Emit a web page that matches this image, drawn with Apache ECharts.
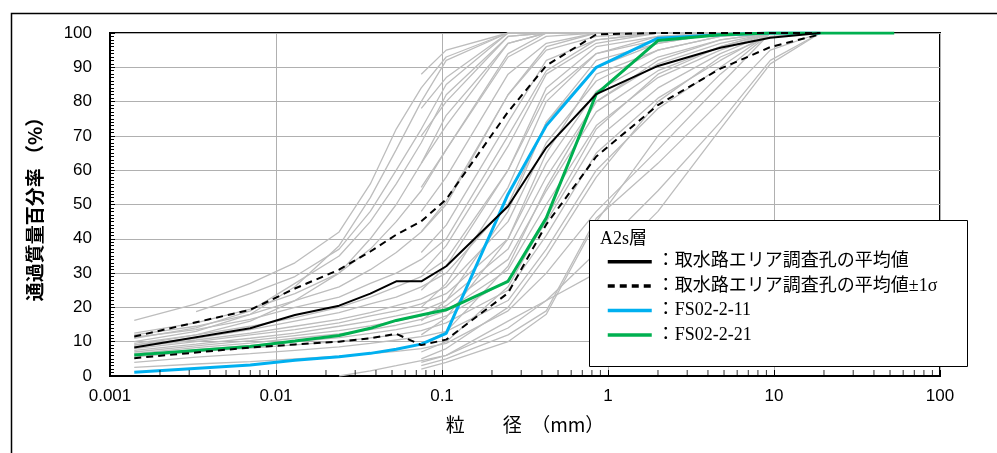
<!DOCTYPE html>
<html><head><meta charset="utf-8">
<script src="https://cdn.jsdelivr.net/npm/echarts@6/dist/echarts.min.js"></script>
<style>html,body{margin:0;padding:0;background:#fff}#c{width:997px;height:453px}</style>
</head><body><div id="c"></div>
<script>
// Particle diameters (mm) used as x positions
const SIEVE = [0.0014, 0.0033, 0.007, 0.013, 0.024, 0.037, 0.053, 0.075, 0.106, 0.25, 0.425, 0.85, 2, 4.75, 9.5, 19, 26.5, 37.5, 53];
const X_TICK_LABELS = ['0.001', '0.01', '0.1', '1', '10', '100'];
const Y_TICK_LABELS = ['0','10','20','30','40','50','60','70','80','90','100'];

// Highlighted series (% passing at each SIEVE diameter)
const MEAN  = [8.3, null, 13.9, 17.8, 20.5, 24, 27.6, 27.6, 32, 49.5, 66.6, 82.2, 90.4, 95.7, 98.6, 100];
const UPPER = [11.5, null, 19.3, 25.5, 31, 36.3, 41.2, 45.1, 51.5, 77, 90.5, 99.6, 100, 100, 100, 100];
const LOWER = [5.2, null, 8.3, 9.2, 10, 11, 12.3, 9, 10.6, 24.2, 44.2, 64, 79, 89.6, 95.9, 99.6];
const FS11  = [1.1, null, 3.2, 4.6, 5.6, 6.6, 7.8, 9.3, 12.4, 53, 73, 90, 98.5, 99.5, 100, 100];
const FS21  = [6.1, null, 8.6, 10.2, 11.8, 13.9, 16.2, 17.8, 19.3, 27.6, 46.1, 82.2, 97.8, 99.5, 100, 100, 100, 100, 100];

// Individual borehole samples (gray)
const N = null;
const GRAY_SAMPLES = [
  [16.2, 21, 27, 33, 42, 56, 72, 84, 93, 100, 100, 100, 100, 100, 100, 100],
  [N, 18.8, 24, 29, 37, 48, 60, 72, 85, 100, 100, 100, 100, 100, 100, 100],
  [10, 13, 18, 26, 38, 52, 66, 80, 92, 100, 100, 100, 100, 100, 100, 100],
  [11, 14, 19, 27, 35, 45, 56, 68, 82, 99, 100, 100, 100, 100, 100, 100],
  [9, 12, 16, 22, 30, 40, 50, 62, 76, 97, 100, 100, 100, 100, 100, 100],
  [12.5, 15.5, 19.5, 24, 30, 37, 45, 54, 66, 94, 100, 100, 100, 100, 100, 100],
  [12, 14.5, 18, 22, 26, 31, 36, 42, 50, 82, 96, 100, 100, 100, 100, 100],
  [11.3, 13.5, 16.5, 20, 23, 27, 30, 34, 40, 70, 89, 98, 100, 100, 100, 100],
  [9.5, 12, 14.5, 17, 20, 23, 26, 29, 34, 60, 82, 94, 99, 100, 100, 100],
  [9, 11, 13.5, 16, 18.5, 21, 23, 26, 30, 50, 74, 90, 97, 100, 100, 100],
  [8.5, 10.5, 12.5, 14.5, 16.5, 18.5, 20.5, 22.5, 26, 45, 68, 86, 95, 99, 100, 100],
  [8, 10, 12, 13.5, 15.5, 17.5, 19, 21, 24, 40, 62, 83, 93, 98, 100, 100],
  [7.5, 9.3, 11, 12.5, 14.5, 16, 17.5, 19, 22, 37, 58, 80, 91, 97, 100, 100],
  [7, 8.8, 10.3, 11.8, 13.2, 14.6, 16, 17.5, 20.5, 34, 54, 77, 89, 96, 100, 100],
  [6.5, 8.3, 9.6, 11, 12.3, 13.5, 14.8, 16.5, 19, 31, 50, 73, 87, 95, 100, 100],
  [6, 7.7, 8.9, 10, 11.2, 12.4, 13.5, 15, 17.5, 28, 45, 69, 84, 94, 100, 100],
  [5.6, 7.1, 8.1, 9.1, 10.1, 11.1, 12, 13.2, 15.5, 25, 41, 65, 81, 92, 100, 100],
  [4, 5.5, 6.5, 7.5, 8.5, 9.5, 10.5, 11.5, 13, 22, 37, 60, 78, 90, 100, 100],
  [2.5, 3.5, 4.2, 5, 5.8, 6.5, 7.2, 8, 9.5, 19, 30, 48, 66, 85, 100, 100],
  [N, N, N, N, 0, 1.5, 3, 4.5, 6, 14, 22, 36, 54, 74, 92, 100],
  [N, N, N, N, N, N, N, 88, 95, 100, 100, 100, 100, 100, 100, 100],
  [N, N, N, N, N, N, N, 78, 87, 100, 100, 100, 100, 100, 100, 100],
  [N, N, N, N, N, N, N, 70, 80, 99, 100, 100, 100, 100, 100, 100],
  [N, N, N, N, N, N, N, 62, 73, 97, 100, 100, 100, 100, 100, 100],
  [N, N, N, N, N, N, N, 55, 66, 93, 99, 100, 100, 100, 100, 100],
  [N, N, N, N, N, N, N, 48, 58, 88, 97, 100, 100, 100, 100, 100],
  [N, N, N, N, N, N, N, 42, 51, 82, 95, 99, 100, 100, 100, 100],
  [N, N, N, N, N, N, N, 36, 44, 74, 92, 98, 100, 100, 100, 100],
  [N, N, N, N, N, N, N, 30, 38, 67, 88, 97, 100, 100, 100, 100],
  [N, N, N, N, N, N, N, 25, 32, 60, 84, 96, 99, 100, 100, 100],
  [N, N, N, N, N, N, N, 20, 27, 55, 80, 94, 98, 100, 100, 100],
  [N, N, N, N, N, N, N, 16, 22, 48, 74, 92, 97, 100, 100, 100],
  [N, N, N, N, N, N, N, 12, 17, 40, 65, 88, 95, 99, 100, 100],
  [N, N, N, N, N, N, N, 9, 13, 32, 55, 80, 92, 98, 100, 100],
  [N, N, N, N, N, N, N, 7, 10, 26, 46, 72, 88, 96, 100, 100],
  [N, N, N, N, N, N, N, 5, 8, 20, 35, 58, 80, 93, 99, 100],
  [N, N, N, N, N, N, N, 4, 6, 16, 22, 30, 48, 72, 91, 100],
  [N, N, N, N, N, N, N, 3, 5, 12, 19, 46, 62, 80, 95, 100],
  [N, N, N, N, N, N, N, 2, 4, 10, 18, 45, 70, 88, 100, 100]
];

const NAME_MEAN = '：取水路エリア調査孔の平均値';
const NAME_SIG  = '：取水路エリア調査孔の平均値±1σ';
const NAME_11   = '：FS02-2-11';
const NAME_21   = '：FS02-2-21';

function pairs(vals) {
  const out = [];
  vals.forEach((v, i) => { if (v != null && i < SIEVE.length) out.push([SIEVE[i], v]); });
  return out;
}

// log minor tick positions (2..9 per decade)
const MINOR_TICKS = [];
for (let k = -3; k <= 1; k++) for (let m = 2; m <= 9; m++) MINOR_TICKS.push([m * Math.pow(10, k), 0]);

const serifFont = "'Liberation Serif', 'Noto Sans CJK JP', serif";
const sansFont = "'Liberation Sans', Arial, sans-serif";
const hidden = { opacity: 0 };

const series = [];
GRAY_SAMPLES.forEach((s, i) => series.push({
  name: 'sample' + (i + 1), type: 'line', symbol: 'none', data: pairs(s), z: 2,
  lineStyle: { color: '#bdbdbd', width: 1.3 }, silent: true
}));
series.push({ name: NAME_11, type: 'line', symbol: 'none', data: pairs(FS11), z: 3,
  lineStyle: { color: '#00b0f0', width: 3 }, itemStyle: { color: '#00b0f0', opacity: 0 } });
series.push({ name: NAME_21, type: 'line', symbol: 'none', data: pairs(FS21), z: 3,
  lineStyle: { color: '#00b050', width: 3 }, itemStyle: { color: '#00b050', opacity: 0 } });
series.push({ name: NAME_SIG, type: 'line', symbol: 'none', data: pairs(UPPER), z: 3,
  lineStyle: { color: '#000', width: 2, type: [7, 5] }, itemStyle: { color: '#000', opacity: 0 } });
series.push({ name: NAME_SIG, type: 'line', symbol: 'none', data: pairs(LOWER), z: 3,
  lineStyle: { color: '#000', width: 2, type: [7, 5] }, itemStyle: { color: '#000', opacity: 0 } });
series.push({ name: NAME_MEAN, type: 'line', symbol: 'none', data: pairs(MEAN), z: 3,
  lineStyle: { color: '#000', width: 2 }, itemStyle: { color: '#000', opacity: 0 } });
series.push({ name: 'minorTicks', type: 'scatter', data: MINOR_TICKS, symbol: 'rect',
  symbolSize: [1, 6], symbolOffset: [0, -3], itemStyle: { color: '#000' }, silent: true, clip: false, z: 5 });

const chart = echarts.init(document.getElementById('c'), null, { renderer: 'canvas' });
chart.setOption({
  animation: false,
  backgroundColor: '#fff',
  grid: { left: 110, right: 57, top: 33, bottom: 77, show: true, borderColor: '#000', borderWidth: 2, backgroundColor: 'transparent' },
  xAxis: {
    type: 'log', logBase: 10, min: 0.001, max: 100,
    axisLine: { show: true, lineStyle: { color: '#000', width: 2 } },
    axisTick: { show: true, inside: true, length: 6, lineStyle: { color: '#000' } },
    splitLine: { show: true, lineStyle: { color: '#b0b0b0', width: 1 } },
    axisLabel: { color: '#000', fontSize: 17, fontFamily: sansFont, margin: 12,
      formatter: v => X_TICK_LABELS[Math.round(Math.log10(v)) + 3] },
    name: '粒　　径　（mm）', nameLocation: 'middle', nameGap: 39,
    nameTextStyle: { color: '#000', fontSize: 19, fontFamily: "'Noto Sans CJK JP', sans-serif" }
  },
  yAxis: {
    type: 'value', min: 0, max: 100, interval: 10,
    axisLine: { show: true, lineStyle: { color: '#000', width: 2 } },
    axisTick: { show: true, inside: true, length: 5, lineStyle: { color: '#000' } },
    minorTick: { show: true, splitNumber: 10, length: 4, lineStyle: { color: '#000' } },
    splitLine: { show: true, lineStyle: { color: '#b0b0b0', width: 1 } },
    axisLabel: { color: '#000', fontSize: 17, fontFamily: sansFont, margin: 18,
      formatter: v => Y_TICK_LABELS[Math.round(v / 10)] },
    name: '通過質量百分率 （%）', nameLocation: 'middle', nameGap: 66, nameRotate: 90,
    nameTextStyle: { color: '#000', fontSize: 19, fontWeight: 'bold', fontFamily: "'Noto Sans CJK JP', sans-serif" }
  },
  legend: {
    data: [NAME_MEAN, NAME_SIG, NAME_11, NAME_21],
    orient: 'vertical', left: 606, top: 252.7, padding: 0,
    itemWidth: 44, itemHeight: 18, itemGap: 6.4,
    selectedMode: false,
    itemStyle: hidden,
    lineStyle: { width: 3.5 },
    textStyle: { color: '#000', fontSize: 18, fontFamily: serifFont }
  },
  graphic: [
    { type: 'rect', left: 9, top: 11, shape: { width: 1010, height: 470 }, z: 0,
      style: { fill: 'none', stroke: '#000', lineWidth: 1.5 }, silent: true },
    { type: 'rect', left: 589, top: 220, shape: { width: 378, height: 146 }, z: 3,
      style: { fill: '#fff', stroke: '#000', lineWidth: 1 }, silent: true },
    { type: 'text', left: 600, top: 230, z: 5,
      style: { text: 'A2s層', fill: '#000', font: "18px 'Liberation Serif', 'Noto Sans CJK JP', serif" }, silent: true }
  ],
  series: series
});
</script></body></html>
